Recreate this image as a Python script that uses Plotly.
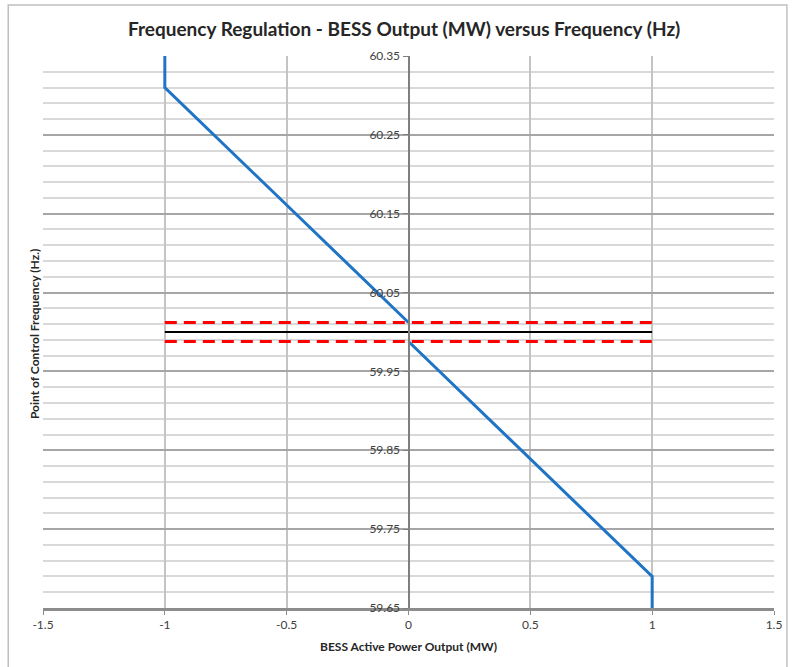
import plotly.graph_objects as go

# BESS droop characteristic: active power output (MW) vs. point-of-control frequency (Hz)
power_mw = [-1, -1, 0, None, 0, 1, 1]
freq_hz = [60.35, 60.31, 60.012, None, 59.988, 59.69, 59.65]

# Nominal frequency and deadband limits, drawn across the full output range
band_mw = [-1, 1]
nominal_hz = [60.0, 60.0]
deadband_upper_hz = [60.012, 60.012]
deadband_lower_hz = [59.988, 59.988]

x_ticks = [-1.5, -1, -0.5, 0, 0.5, 1, 1.5]
x_tick_text = ["-1.5", "-1", "-0.5", "0", "0.5", "1", "1.5"]
y_ticks = [59.65, 59.75, 59.85, 59.95, 60.05, 60.15, 60.25, 60.35]
y_tick_text = ["59.65", "59.75", "59.85", "59.95", "60.05", "60.15", "60.25", "60.35"]

FONT = "Lato"
TEXT = "#404040"

# Figure geometry (pixels)
FIG_W, FIG_H = 794, 667
M_L, M_R, M_T, M_B = 43, 15, 56, 59
PLOT_W = FIG_W - M_L - M_R
PLOT_H = FIG_H - M_T - M_B


def px_x(px):
    return (px - M_L) / PLOT_W


def px_y(py):
    return (FIG_H - M_B - py) / PLOT_H


fig = go.Figure()

fig.add_trace(go.Scatter(
    x=band_mw, y=nominal_hz, mode="lines",
    line=dict(color="#000000", width=2), hoverinfo="skip", showlegend=False))
for band in (deadband_upper_hz, deadband_lower_hz):
    fig.add_trace(go.Scatter(
        x=band_mw, y=band, mode="lines",
        line=dict(color="#ff0000", width=3, dash="12px,7px"),
        hoverinfo="skip", showlegend=False))
fig.add_trace(go.Scatter(
    x=power_mw, y=freq_hz, mode="lines", connectgaps=False,
    line=dict(color="#1f74c6", width=3), showlegend=False))

fig.update_layout(
    width=FIG_W, height=FIG_H,
    margin=dict(l=M_L, r=M_R, t=M_T, b=M_B, pad=0),
    paper_bgcolor="white", plot_bgcolor="white",
    font=dict(family=FONT, color=TEXT, size=12),
    xaxis=dict(
        range=[-1.5, 1.5], tickvals=x_ticks, ticktext=x_tick_text,
        showgrid=True, gridcolor="#c4c4c4", gridwidth=1.5,
        zeroline=False, showline=True, linecolor="#8c8c8c", linewidth=3,
        ticks="outside", ticklen=4, tickcolor="#8c8c8c",
        tickfont=dict(family=FONT, size=12, color=TEXT),
        title=dict(text="<b>BESS Active Power Output (MW)</b>",
                   font=dict(family=FONT, size=12, color="#262626"),
                   standoff=12),
        layer="above traces",
    ),
    yaxis=dict(
        range=[59.65, 60.35], tickvals=y_ticks, ticktext=y_tick_text,
        anchor="free", position=0.5,
        showgrid=True, gridcolor="#a6a6a6", gridwidth=1.5,
        minor=dict(tick0=59.65, dtick=0.02, showgrid=True,
                   gridcolor="#d9d9d9", gridwidth=1.5, ticks=""),
        zeroline=False, showline=True, linecolor="#7f7f7f", linewidth=2,
        ticks="outside", ticklen=5, tickcolor="#7f7f7f",
        tickfont=dict(family=FONT, size=12, color=TEXT),
        layer="above traces",
    ),
    annotations=[
        dict(text="<b>Frequency Regulation - BESS Output (MW) versus Frequency (Hz)</b>",
             xref="paper", yref="paper", x=px_x(406), y=px_y(28),
             xanchor="center", yanchor="middle", showarrow=False,
             font=dict(family=FONT, size=19, color="#262626")),
        dict(text="<b>Point of Control Frequency (Hz.)</b>",
             xref="paper", yref="paper", x=px_x(34), y=px_y(334),
             xanchor="center", yanchor="middle", textangle=-90, showarrow=False,
             font=dict(family=FONT, size=12, color="#262626")),
    ],
    shapes=[
        # chart area frame
        dict(type="rect", xref="paper", yref="paper",
             x0=px_x(8), x1=px_x(792), y0=px_y(5), y1=px_y(672),
             line=dict(color="#c0c0c0", width=1.5), fillcolor="rgba(0,0,0,0)",
             layer="below"),
    ],
)

fig.write_html("out.html")
